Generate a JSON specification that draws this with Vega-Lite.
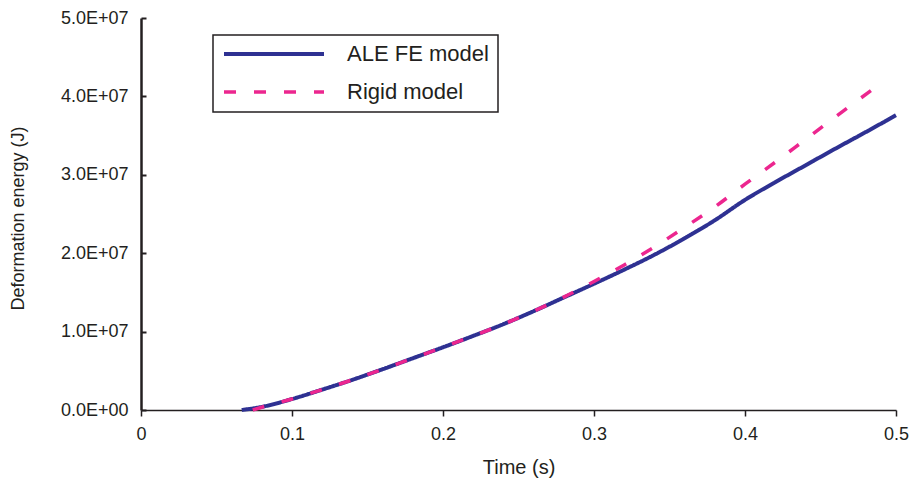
{
  "$schema": "https://vega.github.io/schema/vega-lite/v6.json",
  "width": 755,
  "height": 392,
  "autosize": {"type": "none"},
  "padding": {"left": 141, "top": 18, "right": 18, "bottom": 69},
  "background": "white",
  "config": {"view": {"stroke": null}, "font": "Liberation Sans", "legend": {"strokeWidth": 1.5}},
  "data": {
    "values": [
      {"model": "ALE FE model", "t": 0.0667, "E": 0},
      {"model": "ALE FE model", "t": 0.08, "E": 400000},
      {"model": "ALE FE model", "t": 0.1, "E": 1400000},
      {"model": "ALE FE model", "t": 0.12, "E": 2600000},
      {"model": "ALE FE model", "t": 0.14, "E": 3850000},
      {"model": "ALE FE model", "t": 0.16, "E": 5200000},
      {"model": "ALE FE model", "t": 0.18, "E": 6600000},
      {"model": "ALE FE model", "t": 0.2, "E": 8000000},
      {"model": "ALE FE model", "t": 0.22, "E": 9450000},
      {"model": "ALE FE model", "t": 0.24, "E": 10950000},
      {"model": "ALE FE model", "t": 0.26, "E": 12600000},
      {"model": "ALE FE model", "t": 0.28, "E": 14350000},
      {"model": "ALE FE model", "t": 0.3, "E": 16100000},
      {"model": "ALE FE model", "t": 0.32, "E": 17900000},
      {"model": "ALE FE model", "t": 0.34, "E": 19800000},
      {"model": "ALE FE model", "t": 0.36, "E": 21900000},
      {"model": "ALE FE model", "t": 0.38, "E": 24200000},
      {"model": "ALE FE model", "t": 0.4, "E": 26800000},
      {"model": "ALE FE model", "t": 0.42, "E": 29050000},
      {"model": "ALE FE model", "t": 0.44, "E": 31200000},
      {"model": "ALE FE model", "t": 0.46, "E": 33350000},
      {"model": "ALE FE model", "t": 0.48, "E": 35450000},
      {"model": "ALE FE model", "t": 0.5, "E": 37600000},
      {"model": "Rigid model", "t": 0.074, "E": 0},
      {"model": "Rigid model", "t": 0.08, "E": 350000},
      {"model": "Rigid model", "t": 0.1, "E": 1400000},
      {"model": "Rigid model", "t": 0.12, "E": 2600000},
      {"model": "Rigid model", "t": 0.14, "E": 3850000},
      {"model": "Rigid model", "t": 0.16, "E": 5200000},
      {"model": "Rigid model", "t": 0.18, "E": 6600000},
      {"model": "Rigid model", "t": 0.2, "E": 8000000},
      {"model": "Rigid model", "t": 0.22, "E": 9450000},
      {"model": "Rigid model", "t": 0.24, "E": 10950000},
      {"model": "Rigid model", "t": 0.26, "E": 12600000},
      {"model": "Rigid model", "t": 0.28, "E": 14400000},
      {"model": "Rigid model", "t": 0.3, "E": 16400000},
      {"model": "Rigid model", "t": 0.32, "E": 18500000},
      {"model": "Rigid model", "t": 0.34, "E": 20800000},
      {"model": "Rigid model", "t": 0.36, "E": 23300000},
      {"model": "Rigid model", "t": 0.38, "E": 25900000},
      {"model": "Rigid model", "t": 0.4, "E": 28800000},
      {"model": "Rigid model", "t": 0.42, "E": 31600000},
      {"model": "Rigid model", "t": 0.44, "E": 34500000},
      {"model": "Rigid model", "t": 0.46, "E": 37400000},
      {"model": "Rigid model", "t": 0.4845, "E": 40900000}
    ]
  },
  "mark": {"type": "line", "interpolate": "monotone"},
  "encoding": {
    "x": {
      "field": "t",
      "type": "quantitative",
      "scale": {"domain": [0, 0.5], "nice": false},
      "axis": {
        "values": [0, 0.1, 0.2, 0.3, 0.4, 0.5],
        "format": "~g",
        "title": "Time (s)",
        "titleFontSize": 20,
        "titleFontWeight": "normal",
        "titleColor": "#231f20",
        "titleY": 63,
        "titleBaseline": "alphabetic",
        "labelFontSize": 18,
        "labelColor": "#231f20",
        "labelPadding": 9,
        "labelFlush": false,
        "tickSize": 6,
        "tickWidth": 1.5,
        "tickColor": "#231f20",
        "domainColor": "#231f20",
        "domainWidth": 1.5,
        "grid": false
      }
    },
    "y": {
      "field": "E",
      "type": "quantitative",
      "scale": {"domain": [0, 50000000], "nice": false},
      "axis": {
        "values": [0, 10000000, 20000000, 30000000, 40000000, 50000000],
        "labelExpr": "datum.value == 0 ? '0.0E+00' : format(datum.value / 10000000, '.1f') + 'E+07'",
        "title": "Deformation energy (J)",
        "titleFontSize": 18,
        "titleFontWeight": "normal",
        "titleColor": "#231f20",
        "titleX": -123,
        "titleY": 200,
        "titleAngle": -90,
        "titleAlign": "center",
        "titleBaseline": "middle",
        "labelFontSize": 18,
        "labelColor": "#231f20",
        "labelPadding": 18,
        "tickSize": -5,
        "tickWidth": 2,
        "tickColor": "#231f20",
        "domainColor": "#231f20",
        "domainWidth": 2.5,
        "grid": false
      }
    },
    "color": {
      "field": "model",
      "type": "nominal",
      "scale": {"domain": ["ALE FE model", "Rigid model"], "range": ["#2e3192", "#ec268f"]},
      "legend": {
        "orient": "none",
        "legendX": 72,
        "legendY": 17,
        "title": null,
        "symbolType": "stroke",
        "symbolSize": 10000,
        "symbolStrokeWidth": 4.5,
        "clipHeight": 20,
        "rowPadding": 16,
        "padding": 9,
        "labelOffset": 21,
        "labelFontSize": 22,
        "labelColor": "#231f20",
        "labelExpr": "datum.label + '\u00a0\u00a0\u00a0'",
        "strokeColor": "#231f20"
      }
    },
    "strokeDash": {
      "field": "model",
      "type": "nominal",
      "scale": {"domain": ["ALE FE model", "Rigid model"], "range": [[1, 0], [12, 18]]},
      "legend": {
        "orient": "none",
        "legendX": 72,
        "legendY": 17,
        "title": null,
        "symbolType": "stroke",
        "symbolSize": 10000,
        "symbolStrokeWidth": 4.5,
        "clipHeight": 20,
        "rowPadding": 16,
        "padding": 9,
        "labelOffset": 21,
        "labelFontSize": 22,
        "labelColor": "#231f20",
        "labelExpr": "datum.label + '\u00a0\u00a0\u00a0'",
        "strokeColor": "#231f20"
      }
    },
    "strokeWidth": {
      "field": "model",
      "type": "nominal",
      "scale": {"domain": ["ALE FE model", "Rigid model"], "range": [4, 3.5]},
      "legend": null
    }
  }
}
